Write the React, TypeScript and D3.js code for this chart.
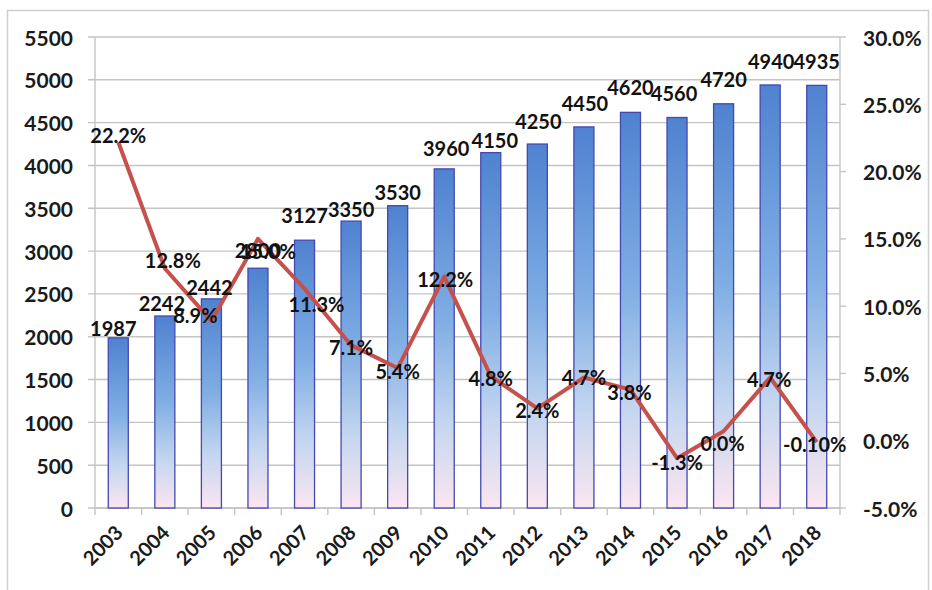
import React from "react";
import * as d3 from "d3";

const years = ["2003","2004","2005","2006","2007","2008","2009","2010","2011","2012","2013","2014","2015","2016","2017","2018"];
const output = [1987, 2242, 2442, 2800, 3127, 3350, 3530, 3960, 4150, 4250, 4450, 4620, 4560, 4720, 4940, 4935];
const growth = [22.2, 12.8, 8.9, 15.0, 11.3, 7.1, 5.4, 12.2, 4.8, 2.4, 4.7, 3.8, -1.3, 0.7, 4.7, -0.1];
const growthLabels = ["22.2%","12.8%","8.9%","15.0%","11.3%","7.1%","5.4%","12.2%","4.8%","2.4%","4.7%","3.8%","-1.3%","0.0%","4.7%","-0.10%"];
const leftTicks = [0, 500, 1000, 1500, 2000, 2500, 3000, 3500, 4000, 4500, 5000, 5500];
const rightTicks = [-5, 0, 5, 10, 15, 20, 25, 30];

// label placement nudges (layout only)
const barLabelGap = [2, 5, 4, 10, 17, 4, 6, 13, 5, 15, 16, 17, 16, 17, 16, 16];
const barLabelDx = [-5, -3, -2, 0, 0, 0, 0, 2, 4, 1, 1, 0, -3, 0, 1, 0];
const lineLabelNudge: [number, number][] = [
  [0, -7], [8, -8], [-16, -6], [10, 12], [12, 15], [0, 2], [0, 3], [1, 2], [0, 2], [0, 2],
  [0, 0], [-1, 2], [0, 4], [-1, 12], [-1, 2], [-2, 2],
];

const FONT = "Lato, 'Open Sans', sans-serif";

export default function App() {
  const W = 932, H = 590;
  const left = 95, right = 840, top = 37, bottom = 508;
  const x = d3.scaleBand<string>().domain(years).range([left, right]).paddingInner(0.57).paddingOuter(0.285);
  const step = x.step();
  const yL = d3.scaleLinear().domain([0, 5500]).range([bottom, top]);
  const yR = d3.scaleLinear().domain([-5, 30]).range([bottom, top]);
  const cx = (i: number) => (x(years[i]) as number) + x.bandwidth() / 2;

  const line = d3.line<number>().x((_, i) => cx(i)).y((d) => yR(d));
  const grid = "#c4c4c4";

  return (
    <svg width={W} height={H} style={{ position: "absolute", left: 0, top: 0, display: "block", background: "#fff" }}
      fontFamily={FONT} fontWeight={700}>
      <defs>
        <linearGradient id="barGrad" x1="0" y1="0" x2="0" y2="1">
          <stop offset="0" stopColor="#4f82d0" />
          <stop offset="0.45" stopColor="#80aee4" />
          <stop offset="0.75" stopColor="#c4d6f0" />
          <stop offset="1" stopColor="#fbe6f1" />
        </linearGradient>
      </defs>
      <rect x={7.5} y={10.5} width={921} height={620} fill="#fff" stroke="#cfcfcf" strokeWidth={1.5} />

      {/* gridlines & left ticks */}
      {leftTicks.map((t) => (
        <line key={"g" + t} x1={left - 7} x2={right} y1={yL(t)} y2={yL(t)} stroke={grid} strokeWidth={1.4} />
      ))}
      {leftTicks.map((t) => (
        <text key={"lt" + t} x={73} y={yL(t)} textAnchor="end" dominantBaseline="central" fontSize={21} fill="#1a1a1a">{t}</text>
      ))}
      {/* axes */}
      <line x1={left} x2={left} y1={top} y2={bottom} stroke={grid} strokeWidth={1.4} />
      <line x1={right} x2={right} y1={top} y2={bottom} stroke={grid} strokeWidth={1.4} />
      <line x1={left} x2={right} y1={bottom} y2={bottom} stroke={grid} strokeWidth={1.4} />
      {rightTicks.map((t) => (
        <g key={"rt" + t}>
          <line x1={right} x2={right + 6} y1={yR(t)} y2={yR(t)} stroke={grid} strokeWidth={1.4} />
          <text x={863} y={yR(t)} dominantBaseline="central" fontSize={21} fill="#1a1a1a">{t.toFixed(1) + "%"}</text>
        </g>
      ))}
      {d3.range(years.length + 1).map((i) => (
        <line key={"xt" + i} x1={left + i * step} x2={left + i * step} y1={bottom} y2={bottom + 7} stroke={grid} strokeWidth={1.4} />
      ))}
      {years.map((yr, i) => (
        <text key={"xl" + yr} transform={`translate(${cx(i) + 6},${bottom + 26}) rotate(-45)`} textAnchor="end"
          fontSize={20} fill="#1a1a1a">{yr}</text>
      ))}

      {/* bars */}
      {output.map((v, i) => (
        <rect key={"b" + i} x={x(years[i])} y={yL(v)} width={x.bandwidth()} height={bottom - yL(v)}
          fill="url(#barGrad)" stroke="#4548b0" strokeWidth={1.3} />
      ))}

      {/* line */}
      <path d={line(growth) || ""} fill="none" stroke="#c5504c" strokeWidth={4} strokeLinejoin="round" />

      {/* bar labels */}
      {output.map((v, i) => (
        <text key={"bl" + i} x={cx(i) + barLabelDx[i]} y={yL(v) - barLabelGap[i]} textAnchor="middle" fontSize={20} fill="#111">{v}</text>
      ))}
      {/* line labels */}
      {growth.map((v, i) => (
        <text key={"ll" + i} x={cx(i) + lineLabelNudge[i][0]} y={yR(v) + lineLabelNudge[i][1]} textAnchor="middle"
          dominantBaseline="central" fontSize={20} fill="#111">{growthLabels[i]}</text>
      ))}
    </svg>
  );
}
